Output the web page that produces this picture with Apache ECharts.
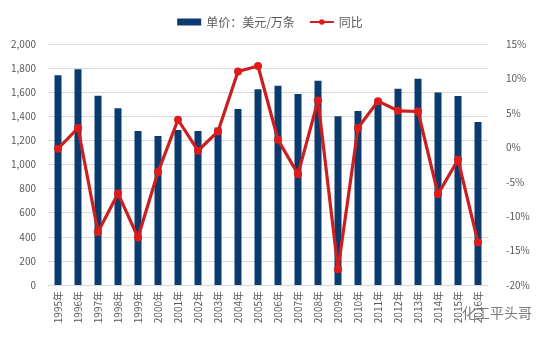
<!DOCTYPE html>
<html><head><meta charset="utf-8">
<script src="https://cdn.jsdelivr.net/npm/echarts@6/dist/echarts.min.js"></script>
<style>html,body{margin:0;padding:0;background:#fff}#c{width:540px;height:338px}</style>
</head><body><div id="c"></div>
<script>
const categories = ['1995年','1996年','1997年','1998年','1999年','2000年','2001年','2002年','2003年','2004年','2005年','2006年','2007年','2008年','2009年','2010年','2011年','2012年','2013年','2014年','2015年','2016年'];
const priceValues = [1740,1790,1570,1467,1278,1236,1286,1278,1308,1461,1625,1653,1586,1694,1400,1444,1540,1628,1711,1597,1569,1353];
const yoyValues = [-0.2,2.8,-12.3,-6.7,-13.1,-3.6,4.0,-0.5,2.3,11.0,11.8,1.1,-3.9,6.8,-17.7,2.8,6.7,5.3,5.2,-6.8,-1.8,-13.8];
const seriesNames = ['单价：美元/万条','同比'];

const font = '"Microsoft YaHei","Noto Sans CJK SC",sans-serif';
const chart = echarts.init(document.getElementById('c'));
chart.setOption({
  animation:false,
  textStyle:{fontFamily:font},
  legend:{
    top:11, left:'center', itemGap:14, itemWidth:24, itemHeight:7,
    textStyle:{color:'#595959',fontSize:12,fontFamily:font},
    data:[{name:seriesNames[0],icon:'rect'},{name:seriesNames[1]}]
  },
  grid:{left:48,right:52,top:44,bottom:53},
  xAxis:{
    type:'category', data:categories,
    axisLine:{lineStyle:{color:'#d9d9d9'}},
    axisTick:{show:false},
    axisLabel:{rotate:90,color:'#595959',fontSize:10,margin:6,interval:0}
  },
  yAxis:[
    {type:'value',min:0,max:2000,interval:200,
     axisLabel:{color:'#595959',fontSize:10,margin:12,formatter:v=>v.toLocaleString('en-US')},
     splitLine:{lineStyle:{color:'#d9d9d9'}},axisLine:{show:false},axisTick:{show:false}},
    {type:'value',min:-20,max:15,interval:5,
     axisLabel:{color:'#595959',fontSize:10,margin:18,formatter:v=>v+'%'},
     splitLine:{show:false},axisLine:{show:false},axisTick:{show:false}}
  ],
  series:[
    {name:seriesNames[0],type:'bar',data:priceValues,barWidth:7,itemStyle:{color:'#0b3b6e'}},
    {name:seriesNames[1],type:'line',yAxisIndex:1,data:yoyValues,
     lineStyle:{color:'#cc1f1f',width:3.2},itemStyle:{color:'#e01b1b'},
     symbol:'circle',symbolSize:8,showAllSymbol:true}
  ],
  graphic:[{type:'text',left:462,top:306,style:{text:'化工平头哥',fill:'rgba(80,80,80,0.75)',font:'14px '+font}}]
});
</script></body></html>
